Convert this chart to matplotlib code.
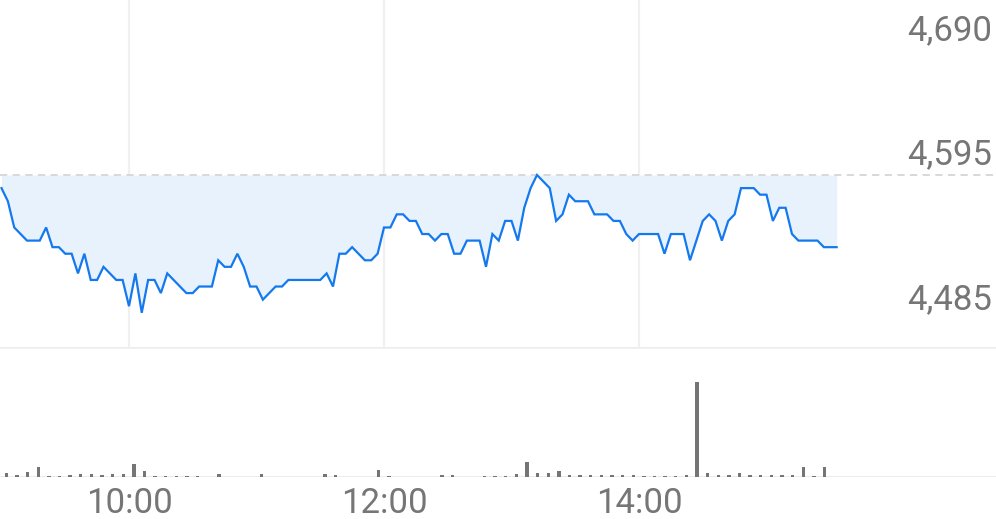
import matplotlib
matplotlib.use("Agg")
import matplotlib.pyplot as plt
import matplotlib.transforms as mtransforms
import numpy as np
from matplotlib import font_manager

# ---------------- data ----------------
# price every 3 minutes from 09:00
price = [4575, 4565, 4545, 4540, 4535, 4535, 4535, 4545, 4530, 4530,
         4525, 4525, 4510, 4525, 4505, 4505, 4515, 4510, 4505, 4505,
         4485, 4510, 4480, 4505, 4505, 4495, 4510, 4505, 4500, 4495,
         4495, 4500, 4500, 4500, 4520, 4515, 4515, 4525, 4515, 4500,
         4500, 4490, 4495, 4500, 4500, 4505, 4505, 4505, 4505, 4505,
         4505, 4510, 4500, 4525, 4525, 4530, 4525, 4520, 4520, 4525,
         4545, 4545, 4555, 4555, 4550, 4550, 4540, 4540, 4535, 4540,
         4540, 4525, 4525, 4535, 4535, 4535, 4515, 4540, 4535, 4550,
         4550, 4535, 4560, 4575, 4585, 4580, 4575, 4550, 4555, 4570,
         4565, 4565, 4565, 4555, 4555, 4555, 4550, 4550, 4540, 4535,
         4540, 4540, 4540, 4540, 4525, 4540, 4540, 4540, 4520, 4535,
         4550, 4555, 4550, 4535, 4550, 4555, 4575, 4575, 4575, 4570,
         4570, 4550, 4560, 4560, 4540, 4535, 4535, 4535, 4535, 4530,
         4530, 4530]
price_minutes = [3 * i for i in range(len(price))]
prev_close = 4585

# volume per 5-minute interval from 09:00 (78 intervals)
volume = [4, 2, 5, 10, 1.5, 1.5, 2, 3, 3.5, 2,
          3, 3, 13, 6, 0.7, 0.7, 0.7, 0.7, 0.7, 0.5,
          3, 0.5, 0.5, 0.5, 3, 0.5, 0.5, 0.5, 0.5, 0.5,
          3, 1.7, 0.5, 0.5, 0.5, 7, 1.3, 0.5, 0.5, 0.5,
          0.5, 2, 2, 0.5, 0.5, 0.7, 0.7, 0.7, 3, 15,
          4, 4, 6, 1.7, 1.7, 1.7, 1.7, 1.7, 1.7, 1.7,
          0.7, 0.7, 0.7, 0.7, 2, 95, 4, 2, 2, 4,
          2, 2, 2, 2, 2.3, 10, 0.7, 10]
volume_minutes = [5 * j + 2.3 for j in range(len(volume))]

xtick_minutes = [60, 180, 300]
xtick_labels = ["10:00", "12:00", "14:00"]
ytick_values = [4690, 4595, 4485]
ytick_labels = ["4,690", "4,595", "4,485"]

# ---------------- style ----------------
names = {f.name for f in font_manager.fontManager.ttflist}
fam = "Roboto" if "Roboto" in names else "DejaVu Sans"
plt.rcParams["font.family"] = [fam, "DejaVu Sans"]
text_color = "#767676"
line_color = "#1479ef"
fill_color = "#e8f2fd"
grid_color = "#f0f0f0"

W, H = 996, 519
fig = plt.figure(figsize=(W / 100, H / 100), dpi=100)

px_per_min = 2.125
x0_px = 1.5
xlim = ((0 - x0_px) / px_per_min, (W - x0_px) / px_per_min)

# price axes: figure pixels 0..347 from top
ax = fig.add_axes([0, (H - 347) / H, 1, 347 / H])
px_per_unit = 1.312
y_top = prev_close + 175 / px_per_unit
y_bot = prev_close - (347 - 175) / px_per_unit
ax.set_xlim(*xlim)
ax.set_ylim(y_bot, y_top)
ax.axis("off")

for m in xtick_minutes:
    ax.axvline(m, color=grid_color, lw=1.6, zorder=0)

ax.fill_between(price_minutes, price, prev_close, color=fill_color, lw=0, zorder=1)
ax.axhline(prev_close, color="#d6d6d6", lw=1.3, ls=(0, (4, 3)), zorder=2)
ax.plot(price_minutes, price, color=line_color, lw=1.6, zorder=3,
        solid_joinstyle="miter")

trans = mtransforms.blended_transform_factory(ax.transAxes, ax.transData)
for v, lab in zip(ytick_values, ytick_labels):
    ax.text(0.996, v - 2.5 / px_per_unit, lab, transform=trans, ha="right",
            va="baseline", fontsize=25, color=text_color, fontweight="normal")

# volume axes: figure pixels 347..477 from top
axv = fig.add_axes([0, (H - 477) / H, 1, 130 / H])
axv.set_xlim(*xlim)
axv.set_ylim(0, 130)
axv.axis("off")
axv.bar(volume_minutes, volume, width=1.6, color="#757575", zorder=2)
axv.axhline(0, color="#e6e6e6", lw=1.8, zorder=1)
axv.axhline(130, color="#ededed", lw=1.8, zorder=1)

transv = mtransforms.blended_transform_factory(axv.transData, axv.transAxes)
for m, lab in zip(xtick_minutes, xtick_labels):
    axv.text(m, (477 - 513) / 130, lab, transform=transv, ha="center",
             va="baseline", fontsize=25, color=text_color, fontweight="normal")

fig.savefig("out.png", dpi=100)
